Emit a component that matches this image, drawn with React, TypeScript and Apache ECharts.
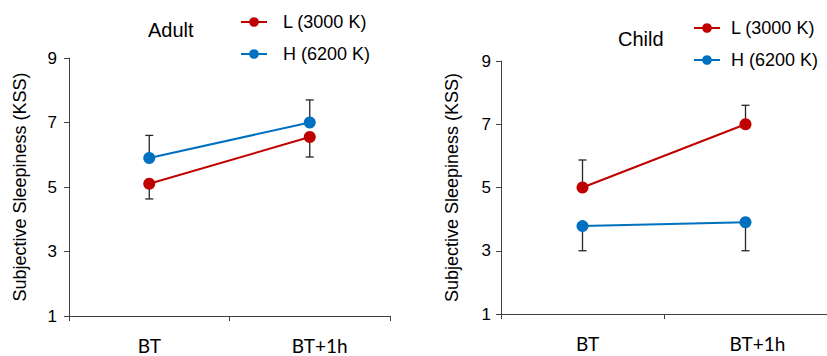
import React, { useEffect, useRef } from "react";
import * as echarts from "echarts";

const categories = ["BT", "BT+1h"];
const seriesNames = ["L (3000 K)", "H (6200 K)"];
const yTicks = [1, 3, 5, 7, 9];

// Adult panel
const adultL = [5.1, 6.55];
const adultLErrEnd = [4.63, 5.93];
const adultH = [5.9, 7.0];
const adultHErrEnd = [6.6, 7.7];

// Child panel
const childL = [5.0, 7.0];
const childLErrEnd = [5.87, 7.6];
const childH = [3.78, 3.9];
const childHErrEnd = [3.0, 3.0];

const RED = "#C00000";
const BLUE = "#0070C0";
const ARIAL = "'Liberation Sans', Arial, sans-serif";
const CAL = "Lato, 'Open Sans', sans-serif";

function errData(vals: number[], ends: number[]) {
  return vals.map((v, i) => [i, v, ends[i]]);
}

function errRender(params: any, api: any) {
  const i = api.value(0);
  const p0 = api.coord([i, api.value(1)]);
  const p1 = api.coord([i, api.value(2)]);
  const hw = 4;
  return {
    type: "group",
    children: [
      {
        type: "line",
        shape: { x1: p0[0], y1: p0[1], x2: p1[0], y2: p1[1] },
        style: { stroke: "#262626", lineWidth: 1.3 },
      },
      {
        type: "line",
        shape: { x1: p1[0] - hw, y1: p1[1], x2: p1[0] + hw, y2: p1[1] },
        style: { stroke: "#262626", lineWidth: 1.3 },
      },
    ],
  };
}

function yAxisCfg(gridIndex: number, labelMargin: number) {
  return {
    type: "value",
    gridIndex,
    min: yTicks[0],
    max: yTicks[yTicks.length - 1],
    interval: 2,
    name: "Subjective Sleepiness (KSS)",
    nameLocation: "middle",
    nameRotate: 90,
    nameGap: 40,
    nameTextStyle: { fontFamily: ARIAL, fontSize: 18, color: "#000" },
    axisLine: { show: true, lineStyle: { color: "#404040", width: 1 } },
    axisTick: { show: true, length: 5, lineStyle: { color: "#404040" } },
    axisLabel: { fontFamily: ARIAL, fontSize: 17, color: "#000", margin: labelMargin },
    splitLine: { show: false },
  };
}

function xAxisCfg(gridIndex: number, firstPad: number, secondPad: number) {
  return {
    type: "category",
    gridIndex,
    data: categories,
    boundaryGap: true,
    axisLine: { show: true, lineStyle: { color: "#404040", width: 1 } },
    axisTick: { show: true, length: 5, lineStyle: { color: "#404040" } },
    axisLabel: {
      fontFamily: CAL,
      fontSize: 19,
      lineHeight: 16,
      color: "#000",
      margin: 21,
      formatter: (v: string, i: number) =>
        "{p" + i + "|}{t|" + v + "}",
      rich: {
        p0: { width: firstPad },
        p1: { width: secondPad },
        t: { fontFamily: CAL, fontSize: 19, lineHeight: 16, color: "#000" },
      },
    },
    splitLine: { show: false },
  };
}

function lineSeries(name: string, data: number[], color: string, idx: number) {
  return {
    type: "line",
    name,
    xAxisIndex: idx,
    yAxisIndex: idx,
    data,
    symbol: "circle",
    symbolSize: 12,
    z: 3,
    lineStyle: { color, width: 2 },
    itemStyle: { color },
  };
}

function errSeries(vals: number[], ends: number[], idx: number) {
  return {
    type: "custom",
    xAxisIndex: idx,
    yAxisIndex: idx,
    data: errData(vals, ends),
    renderItem: errRender,
    z: 1,
    silent: true,
  };
}

function legendCfg(left: number, top: number, pad: number) {
  return {
    orient: "vertical",
    left,
    top,
    padding: 0,
    data: seriesNames,
    itemWidth: 26,
    itemHeight: 12,
    itemGap: 12,
    selectedMode: false,
    formatter: (n: string) => "{pad|}{t|" + n + "}",
    textStyle: {
      fontFamily: ARIAL,
      fontSize: 18,
      color: "#000",
      lineHeight: 20,
      rich: {
        pad: { width: pad },
        t: { fontFamily: ARIAL, fontSize: 18, color: "#000", lineHeight: 20 },
      },
    },
  };
}

export default function App() {
  const ref = useRef<HTMLDivElement>(null);
  useEffect(() => {
    if (!ref.current) return;
    const chart = echarts.init(ref.current, undefined, { renderer: "svg" });
    chart.setOption({
      animation: false,
      backgroundColor: "#fff",
      title: [
        {
          text: "Adult",
          left: 148,
          top: 20,
          padding: 0,
          textStyle: { fontFamily: ARIAL, fontSize: 20, fontWeight: "normal", color: "#000" },
        },
        {
          text: "Child",
          left: 618,
          top: 29,
          padding: 0,
          textStyle: { fontFamily: ARIAL, fontSize: 20, fontWeight: "normal", color: "#000" },
        },
      ],
      legend: [legendCfg(240, 12, 11), legendCfg(693, 18, 6)],
      grid: [
        { left: 69, top: 58, width: 321, height: 258 },
        { left: 501, top: 61, width: 334, height: 253 },
      ],
      xAxis: [xAxisCfg(0, 0, 20), xAxisCfg(1, 10, 24)],
      yAxis: [yAxisCfg(0, 12), yAxisCfg(1, 10)],
      series: [
        errSeries(adultL, adultLErrEnd, 0),
        errSeries(adultH, adultHErrEnd, 0),
        errSeries(childL, childLErrEnd, 1),
        errSeries(childH, childHErrEnd, 1),
        lineSeries(seriesNames[0], adultL, RED, 0),
        lineSeries(seriesNames[1], adultH, BLUE, 0),
        lineSeries(seriesNames[0], childL, RED, 1),
        lineSeries(seriesNames[1], childH, BLUE, 1),
      ],
    });
    return () => chart.dispose();
  }, []);
  return (
    <div
      ref={ref}
      style={{ position: "absolute", left: 0, top: 0, width: 827, height: 356 }}
    />
  );
}
